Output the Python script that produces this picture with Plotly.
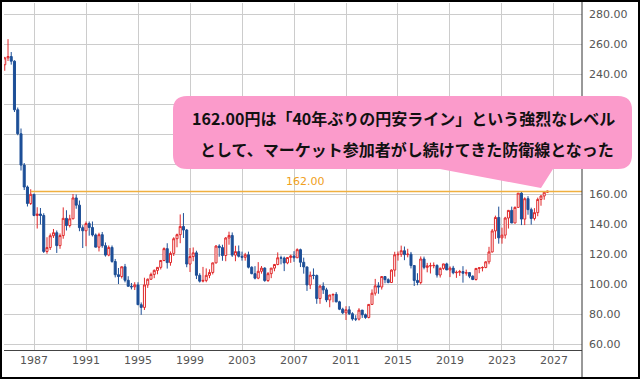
import pandas as pd
import plotly.graph_objects as go

# Quarterly USD/JPY candles, 1984Q4 .. 2026Q3
open_ = [246.5, 251.1, 252.0, 248.9, 216.5, 200.5, 179.6, 165.0, 154.0, 160.1, 146.0, 147.0, 146.0,
         122.0, 124.6, 132.5, 134.5, 125.9, 132.6, 144.1, 139.3, 143.8, 157.7, 152.9, 137.9,
         135.8, 140.6, 138.0, 133.0, 124.9, 133.2, 125.9, 119.6, 124.7, 115.3, 106.5, 105.3,
         111.8, 102.8, 98.8, 98.4, 99.7, 86.5, 84.7, 99.7, 103.5, 106.7, 109.4, 111.4,
         116.0, 123.9, 114.6, 120.7, 130.5, 133.2, 138.7, 136.3, 113.6, 118.6, 121.1, 106.1,
         102.2, 102.7, 106.1, 108.0, 114.4, 125.6, 124.6, 119.3, 131.0, 132.7, 119.6, 121.9,
         118.8, 118.1, 119.8, 111.5, 107.2, 104.2, 108.8, 110.9, 102.6, 107.2, 110.9, 113.3,
         117.8, 117.6, 114.4, 118.0, 119.0, 117.8, 123.2, 114.8, 111.7, 99.7, 106.2, 106.0,
         90.6, 98.9, 96.4, 89.7, 93.0, 93.4, 88.4, 83.5, 81.1, 83.1, 80.5, 77.0,
         76.9, 82.9, 79.8, 78.0, 86.7, 94.2, 99.1, 98.3, 105.3, 103.2, 101.3, 109.6,
         119.8, 120.1, 122.5, 119.9, 120.2, 112.6, 102.7, 101.3, 117.0, 111.4, 112.4, 112.5,
         112.7, 106.3, 110.7, 113.7, 109.7, 110.9, 107.8, 108.1, 108.6, 107.5, 107.9, 105.5,
         103.3, 110.7, 111.1, 111.3, 115.1, 121.7, 135.7, 144.7, 131.1, 132.9, 144.3, 149.4,
         141.0, 151.4, 160.9, 143.6, 157.2, 149.9, 144.0, 147.9, 156.7, 159.0, 161.5]
high = [251.8, 263.6, 255.0, 249.5, 218.0, 204.0, 181.0, 166.0, 163.5, 160.5, 151.5, 151.0, 147.5,
        131.5, 134.0, 137.0, 136.0, 134.0, 151.4, 149.5, 146.5, 160.3, 160.0, 156.0, 139.5,
        142.0, 142.0, 142.0, 134.0, 134.5, 135.0, 128.0, 126.0, 126.0, 117.0, 111.0, 112.0,
        113.7, 105.5, 101.0, 101.5, 101.5, 88.0, 104.5, 104.0, 107.9, 110.0, 111.5, 116.3,
        124.7, 127.5, 122.0, 131.5, 133.9, 146.7, 147.6, 137.0, 124.3, 124.7, 122.5, 107.5,
        111.7, 110.7, 110.1, 114.6, 126.3, 126.8, 126.5, 131.6, 135.2, 134.7, 125.8, 126.0,
        121.9, 121.1, 121.9, 112.1, 112.2, 114.9, 112.3, 111.5, 108.3, 111.0, 113.7, 121.4,
        119.2, 118.6, 118.3, 119.9, 122.2, 124.1, 123.9, 117.9, 111.8, 108.6, 110.7, 106.6,
        99.7, 101.4, 97.8, 93.1, 93.8, 94.9, 89.1, 84.5, 85.5, 85.5, 81.5, 79.5,
        84.2, 83.0, 80.6, 86.8, 96.7, 103.7, 101.5, 105.4, 105.4, 104.1, 110.1, 121.8,
        122.0, 125.9, 125.3, 123.8, 121.7, 112.7, 107.5, 118.7, 118.6, 114.4, 114.5, 114.7,
        113.4, 111.4, 113.8, 114.5, 112.1, 112.4, 109.3, 109.7, 112.2, 109.9, 108.2, 106.1,
        110.9, 111.2, 112.1, 115.5, 125.1, 137.0, 145.9, 151.9, 137.9, 145.1, 149.7, 151.9,
        152.0, 161.0, 161.95, 158.1, 158.9, 151.2, 150.9, 157.9, 159.5, 162.0, 162.5]
low = [242.5, 249.0, 246.6, 215.0, 199.5, 176.0, 163.0, 152.0, 153.0, 145.5, 137.3, 140.0, 121.0,
       120.5, 123.0, 131.0, 121.0, 123.8, 130.5, 136.0, 138.0, 143.5, 150.5, 135.5, 124.3,
       125.5, 132.5, 132.0, 124.8, 122.0, 124.5, 118.6, 118.8, 114.5, 104.7, 100.3, 104.0,
       101.4, 98.5, 96.7, 96.3, 86.3, 79.75, 83.0, 97.7, 103.0, 104.2, 106.8, 110.0,
       115.5, 110.6, 112.5, 119.0, 124.8, 127.5, 131.0, 111.5, 108.3, 115.5, 103.6, 101.3,
       101.4, 101.5, 104.2, 106.7, 114.0, 118.5, 115.8, 115.5, 126.5, 118.4, 115.5, 118.0,
       115.9, 115.9, 110.7, 106.8, 103.4, 103.5, 107.2, 101.8, 101.7, 104.2, 108.8, 112.8,
       113.4, 108.9, 113.5, 114.4, 115.1, 117.6, 111.6, 107.2, 95.7, 96.9, 103.5, 87.1,
       87.1, 93.7, 88.2, 84.8, 88.1, 88.1, 82.9, 80.2, 76.3, 79.6, 75.9, 75.6,
       76.0, 77.7, 77.1, 77.4, 86.5, 92.6, 93.8, 96.6, 100.8, 100.8, 101.1, 105.2,
       115.9, 118.4, 116.2, 118.1, 110.7, 99.0, 99.5, 100.1, 110.1, 108.1, 107.3, 110.8,
       104.6, 104.6, 109.8, 109.6, 104.9, 106.8, 104.4, 105.7, 101.2, 105.9, 104.2, 102.9,
       102.6, 107.5, 108.7, 110.8, 113.5, 121.3, 130.4, 127.2, 127.2, 130.6, 137.3, 140.9,
       140.8, 151.0, 139.6, 139.6, 146.5, 139.9, 142.7, 145.5, 152.5, 156.5, 161.0]
close = [251.1, 252.0, 248.9, 216.5, 200.5, 179.6, 165.0, 154.0, 160.1, 146.0, 147.0, 146.0, 122.0,
         124.6, 132.5, 134.5, 125.9, 132.6, 144.1, 139.3, 143.8, 157.7, 152.9, 137.9, 135.8,
         140.6, 138.0, 133.0, 124.9, 133.2, 125.9, 119.6, 124.7, 115.3, 106.5, 105.3, 111.8,
         102.8, 98.8, 98.4, 99.7, 86.5, 84.7, 99.7, 103.5, 106.7, 109.4, 111.4, 116.0,
         123.9, 114.6, 120.7, 130.5, 133.2, 138.7, 136.3, 113.6, 118.6, 121.1, 106.1, 102.2,
         102.7, 106.1, 108.0, 114.4, 125.6, 124.6, 119.3, 131.0, 132.7, 119.6, 121.9, 118.8,
         118.1, 119.8, 111.5, 107.2, 104.2, 108.8, 110.9, 102.6, 107.2, 110.9, 113.3, 117.8,
         117.6, 114.4, 118.0, 119.0, 117.8, 123.2, 114.8, 111.7, 99.7, 106.2, 106.0, 90.6,
         98.9, 96.4, 89.7, 93.0, 93.4, 88.4, 83.5, 81.1, 83.1, 80.5, 77.0, 76.9,
         82.9, 79.8, 78.0, 86.7, 94.2, 99.1, 98.3, 105.3, 103.2, 101.3, 109.6, 119.8,
         120.1, 122.5, 119.9, 120.2, 112.6, 102.7, 101.3, 117.0, 111.4, 112.4, 112.5, 112.7,
         106.3, 110.7, 113.7, 109.7, 110.9, 107.8, 108.1, 108.6, 107.5, 107.9, 105.5, 103.3,
         110.7, 111.1, 111.3, 115.1, 121.7, 135.7, 144.7, 131.1, 132.9, 144.3, 149.4, 141.0,
         151.4, 160.9, 143.6, 157.2, 149.9, 144.0, 147.9, 156.7, 159.0, 161.5, 162.2]
dates = pd.date_range("1984-10-01", periods=len(close), freq="QS")

y_ticks = [60, 80, 100, 120, 140, 160, 180, 200, 220, 240, 260, 280]
# labels hidden behind the callout in the reference
hidden_ticks = [180, 200, 220]
y_ticktext = ["" if v in hidden_ticks else f"{v:.2f}" for v in y_ticks]
line_level = 162.00
line_start = "1986-10-01"
callout_lines = ["162.00円は「40年ぶりの円安ライン」という強烈なレベル",
                 "として、マーケット参加者がし続けてきた防衛線となった"]

W, H = 640, 379
ML, MR, MT, MB = 4, 58, 3, 29
PW, PH = W - ML - MR, H - MT - MB
X_RANGE = ["1984-09-10", "2029-02-26"]


def px(x):
    return (x - ML) / PW


def py(y):
    return (H - MB - y) / PH


fig = go.Figure()
fig.add_trace(go.Candlestick(
    x=dates, open=open_, high=high, low=low, close=close,
    increasing=dict(line=dict(color="#e0282a", width=1), fillcolor="#ffffff"),
    decreasing=dict(line=dict(color="#1d4f97", width=1), fillcolor="#1d4f97"),
    whiskerwidth=0, hoverinfo="skip", showlegend=False,
))

shapes = []
# 162 line
shapes.append(dict(type="line", xref="x", yref="y", x0=line_start, x1=X_RANGE[1],
                   y0=line_level, y1=line_level, line=dict(color="#f0b040", width=1.5), layer="above"))
# right axis line (full height)
shapes.append(dict(type="line", xref="paper", yref="paper", x0=1, x1=1,
                   y0=py(H), y1=py(0), line=dict(color="#333333", width=1)))

# callout
L, R, T, B, r = 173, 632, 96, 169, 14
pts = [("M", L + r, T), ("L", R - r, T), ("Q", R, T, R, T + r), ("L", R, B - r),
       ("Q", R, B, R - r, B), ("L", 553, B), ("L", 541, 188), ("L", 440, B),
       ("L", L + r, B), ("Q", L, B, L, B - r), ("L", L, T + r), ("Q", L, T, L + r, T)]
path = ""
for p in pts:
    cmd = p[0]
    coords = p[1:]
    s = []
    for i in range(0, len(coords), 2):
        s.append(f"{px(coords[i]):.5f},{py(coords[i+1]):.5f}")
    path += cmd + " " + " ".join(s) + " "
path += "Z"
shapes.append(dict(type="path", xref="paper", yref="paper", path=path,
                   fillcolor="#fb9bcb", line=dict(width=0), layer="above"))
# outer border
shapes.append(dict(type="rect", xref="paper", yref="paper", x0=px(1), x1=px(W - 1),
                   y0=py(H - 1), y1=py(1), line=dict(color="#000000", width=2)))

annotations = [
    dict(xref="x", yref="y", x="2007-12-01", y=168.7, text=f"{line_level:.2f}",
         showarrow=False, font=dict(family="DejaVu Sans", size=11, color="#f0a020")),
    dict(xref="paper", yref="paper", x=px(404), y=py(118), text=callout_lines[0],
         showarrow=False, font=dict(family="Noto Sans CJK JP", size=16, color="#111111"),
         xanchor="center", yanchor="middle"),
    dict(xref="paper", yref="paper", x=px(407), y=py(149), text=callout_lines[1],
         showarrow=False, font=dict(family="Noto Sans CJK JP", size=16, color="#111111"),
         xanchor="center", yanchor="middle"),
]
for a in annotations[1:]:
    a["text"] = "<b>" + a["text"] + "</b>"

fig.update_layout(
    width=W, height=H, margin=dict(l=ML, r=MR, t=MT, b=MB),
    paper_bgcolor="white", plot_bgcolor="white", boxgap=0.1,
    shapes=shapes, annotations=annotations, showlegend=False,
    xaxis=dict(type="date", range=X_RANGE, tick0="1987-01-01", dtick="M48", tickformat="%Y",
               showgrid=True, gridcolor="#cccccc", gridwidth=1, zeroline=False,
               showline=True, linecolor="#444444", linewidth=1, ticks="",
               rangeslider=dict(visible=False),
               tickfont=dict(family="DejaVu Sans", size=11, color="#555555")),
    yaxis=dict(side="right", range=[56.3, 287.7], tickvals=y_ticks, ticktext=y_ticktext,
               showgrid=True, gridcolor="#cccccc", gridwidth=1, zeroline=False,
               showline=False, ticks="", ticklabelstandoff=6,
               tickfont=dict(family="DejaVu Sans", size=11, color="#555555")),
)

fig.write_html("out.html")
